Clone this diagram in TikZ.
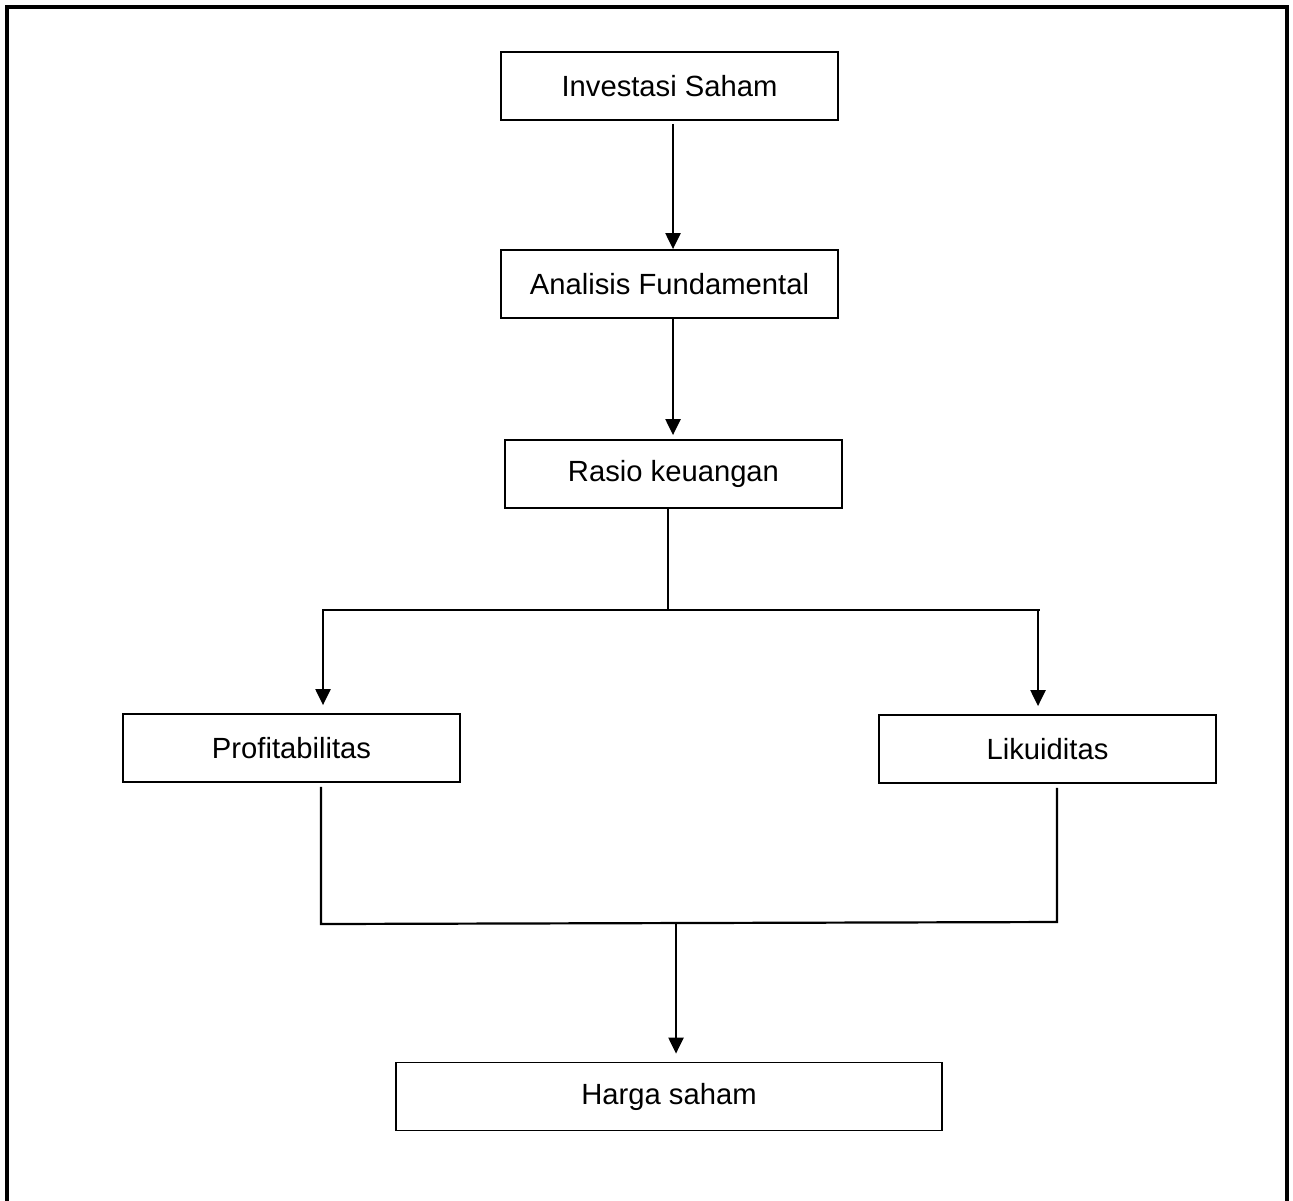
\documentclass[tikz,border=0pt]{standalone}
\usepackage{fontspec}
\setmainfont{Liberation Sans}
\usetikzlibrary{arrows.meta,positioning,calc}

\begin{document}
\begin{tikzpicture}[
  x=0.5pt, y=-0.5pt,
  stage/.style={draw, line width=0.9pt, minimum width=168.5pt, minimum height=34pt,
                inner sep=0pt, font=\fontsize{14.6}{17}\selectfont},
  link/.style={line width=1.1pt},
  arr/.style={link, -{Triangle[length=8pt,width=7.5pt]}},
]
  \useasboundingbox (0,0) rectangle (1293,1200);
  % outer frame, open at the bottom
  \draw[line width=1.6pt] (7,1215) -- (7,7) -- (1287,7) -- (1287,1215);

  \node[stage] (invest) at (669.5,86) {Investasi Saham};
  \node[stage] (analisis) at (669.5,284) {Analisis Fundamental};
  \node[stage] (rasio) at (673.5,474) {Rasio keuangan};
  \node[stage] (profit) at (291.5,748) {Profitabilitas};
  \node[stage] (likuid) at (1047.5,749) {Likuiditas};
  \node[stage, minimum width=273pt] (harga) at (669,1096.5) {Harga saham};

  % main axis of the upper chain
  \coordinate (axis) at (673,0);
  \draw[arr] ([yshift=-1.5pt]invest.south -| axis) -- (analisis.north -| axis);
  \draw[arr, shorten >=2pt] (analisis.south -| axis) -- (rasio.north -| axis);

  % split to the two ratios
  \coordinate (split) at (668,610);
  \coordinate (splitL) at (322,610);
  \coordinate (splitR) at (1040,610);
  \draw[link] (rasio.south -| split) -- (split);
  \draw[link] (splitL) -- (splitR);
  \draw[arr, shorten >=4pt] ([xshift=0.5pt]splitL) -- ([xshift=0.5pt]splitL |- profit.north);
  \draw[arr, shorten >=4pt] ([xshift=-1pt]splitR) -- ([xshift=-1pt]splitR |- likuid.north);

  % join towards the share price
  \coordinate (joinL) at (321,924);
  \coordinate (joinR) at (1057,922);
  \coordinate (merge) at (676,924);
  \draw[link] ([yshift=-2pt]profit.south -| joinL) -- (joinL) -- (joinR) -- ([yshift=-2pt]likuid.south -| joinR);
  \draw[arr, shorten >=4pt] (merge) -- (harga.north -| merge);
\end{tikzpicture}
\end{document}
